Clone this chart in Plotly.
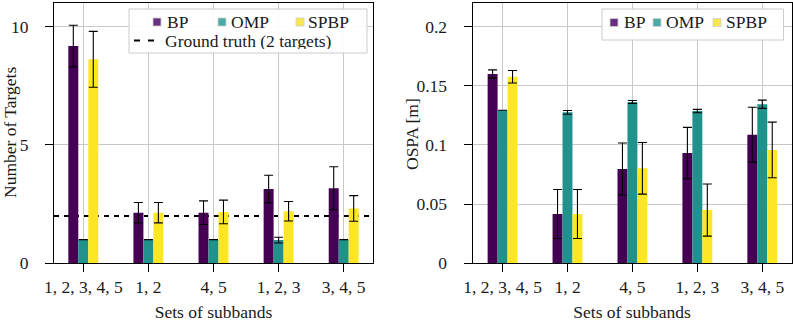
import plotly.graph_objects as go

categories = ["1, 2, 3, 4, 5", "1, 2", "4, 5", "1, 2, 3", "3, 4, 5"]

# Number of targets (left panel)
n_bp = [9.18, 2.14, 2.14, 3.14, 3.17]
n_bp_err = [0.88, 0.43, 0.50, 0.58, 0.91]
n_omp = [1.0, 1.0, 1.0, 0.98, 1.0]
n_omp_err = [0.0, 0.0, 0.0, 0.12, 0.0]
n_spbp = [8.62, 2.14, 2.17, 2.20, 2.32]
n_spbp_err = [1.18, 0.43, 0.50, 0.41, 0.54]
ground_truth = 2
n_ticks = [0, 5, 10]

# OSPA (right panel)
o_bp = [0.160, 0.0417, 0.0797, 0.0932, 0.1087]
o_bp_err = [0.0035, 0.0207, 0.0220, 0.0217, 0.0232]
o_omp = [0.1293, 0.1276, 0.1363, 0.1287, 0.1344]
o_omp_err = [0.0, 0.0016, 0.0013, 0.0014, 0.0035]
o_spbp = [0.1577, 0.0417, 0.0803, 0.0450, 0.0958]
o_spbp_err = [0.0053, 0.0207, 0.0218, 0.0220, 0.0235]
o_ticks = [0, 0.05, 0.1, 0.15, 0.2]
o_ticklabels = ["0", "0.05", "0.1", "0.15", "0.2"]

names = ["BP", "OMP", "SPBP"]
colors = ["#440154", "#21918c", "#fde725"]
legend_colors = ["#6a3080", "#4caaa6", "#f8e84e"]
gt_label = "Ground truth (2 targets)"

FONT = "Liberation Serif"
FS = 17.5
TXT = "#1a1a1a"
W, H = 793, 322
PAD = "&nbsp;&nbsp;&nbsp;"

fig = go.Figure()


def add_bars(vals, errs, name, color, xa, ya):
    fig.add_trace(go.Bar(
        x=categories, y=vals, name=name,
        marker=dict(color=color, line=dict(width=0)),
        error_y=dict(type="data", array=errs, color="black", thickness=1.1, width=4.5),
        xaxis=xa, yaxis=ya, showlegend=False, offsetgroup=name + xa,
        hoverinfo="skip",
    ))


left = [(n_bp, n_bp_err), (n_omp, n_omp_err), (n_spbp, n_spbp_err)]
right = [(o_bp, o_bp_err), (o_omp, o_omp_err), (o_spbp, o_spbp_err)]
for (v, e), nm, c in zip(left, names, colors):
    add_bars(v, e, nm, c, "x", "y")
for (v, e), nm, c in zip(right, names, colors):
    add_bars(v, e, nm, c, "x2", "y2")

# ground truth line
fig.add_shape(type="line", xref="x domain", yref="y", x0=0, x1=1,
              y0=ground_truth, y1=ground_truth, layer="below",
              line=dict(color="black", width=2, dash="5px,5px"))


def px(xp):
    return xp / W


def py(yp):
    return 1 - yp / H


# ---- custom legends (layout decoration) ----
def legend_box(x0, x1, y0, y1):
    fig.add_shape(type="rect", xref="paper", yref="paper", x0=px(x0), x1=px(x1),
                  y0=py(y1), y1=py(y0), fillcolor="rgba(255,255,255,0.92)",
                  line=dict(color="#cccccc", width=1), layer="above")


def legend_text(x, y, text):
    fig.add_annotation(xref="paper", yref="paper", x=px(x), y=py(y),
                       xanchor="left", yanchor="middle", text=text, showarrow=False,
                       height=16, borderpad=0,
                       font=dict(family=FONT, size=FS, color=TXT))


def legend_item(mx, my, tx, text, color):
    fig.add_shape(type="rect", xref="paper", yref="paper",
                  x0=px(mx), x1=px(mx + 8), y0=py(my + 4), y1=py(my - 4),
                  fillcolor=color, line=dict(color="#d0d0d0", width=0.8), layer="above")
    legend_text(tx, my, text)


legend_box(129, 367, 9, 53)
for mx, tx, nm, c in zip([153, 218, 296], [166, 230, 307], names, legend_colors):
    legend_item(mx, 22, tx, nm, c)
fig.add_shape(type="line", xref="paper", yref="paper", x0=px(134), x1=px(155),
              y0=py(40.5), y1=py(40.5), layer="above",
              line=dict(color="black", width=2, dash="6px,8px"))
legend_text(164, 41, gt_label)

legend_box(602, 783.5, 9, 40)
for mx, tx, nm, c in zip([610, 653, 713], [623, 665, 725], names, legend_colors):
    legend_item(mx, 22.5, tx, nm, c)

# y-axis titles
for xc, yc, t in [(10, 133, "Number of Targets"), (412, 134, "OSPA [m]")]:
    fig.add_annotation(xref="paper", yref="paper", x=px(xc), y=py(yc),
                       xanchor="center", yanchor="middle", textangle=-90,
                       text=t, showarrow=False, borderpad=0,
                       font=dict(family=FONT, size=FS, color=TXT))

axis_common = dict(
    showline=True, linecolor="black", linewidth=1, mirror=True,
    showgrid=True, gridcolor="#c8c8c8", gridwidth=1,
    ticks="outside", ticklen=8, tickcolor="black", tickwidth=1,
    tickfont=dict(family=FONT, size=FS, color=TXT),
    zeroline=False, automargin=False,
)
title_font = dict(family=FONT, size=FS, color=TXT)

fig.update_layout(
    template="none",
    width=W, height=H,
    margin=dict(l=0, r=0, t=0, b=0, pad=0),
    paper_bgcolor="white", plot_bgcolor="white",
    barmode="group", bargap=0.54, bargroupgap=0,
    font=dict(family=FONT, size=FS, color=TXT),
    showlegend=False,
    xaxis=dict(type="category", domain=[px(54), px(373)], range=[-0.45, 4.45],
               anchor="y",
               title=dict(text="Sets of subbands", standoff=10, font=title_font),
               **axis_common),
    yaxis=dict(domain=[py(263.3), py(3)], range=[0, 11], anchor="x",
               tickvals=n_ticks, ticktext=[str(t) + PAD for t in n_ticks],
               **axis_common),
    xaxis2=dict(type="category", domain=[px(472.7), px(791.5)], range=[-0.46, 4.45],
                anchor="y2",
                title=dict(text="Sets of subbands", standoff=10, font=title_font),
                **axis_common),
    yaxis2=dict(domain=[py(263.3), py(3)], range=[0, 0.22], anchor="x2",
                tickvals=o_ticks, ticktext=[t + PAD for t in o_ticklabels],
                **axis_common),
)

fig.write_html("out.html", config={"displayModeBar": False},
               post_script="document.body.style.margin='0';document.body.style.padding='0';")
